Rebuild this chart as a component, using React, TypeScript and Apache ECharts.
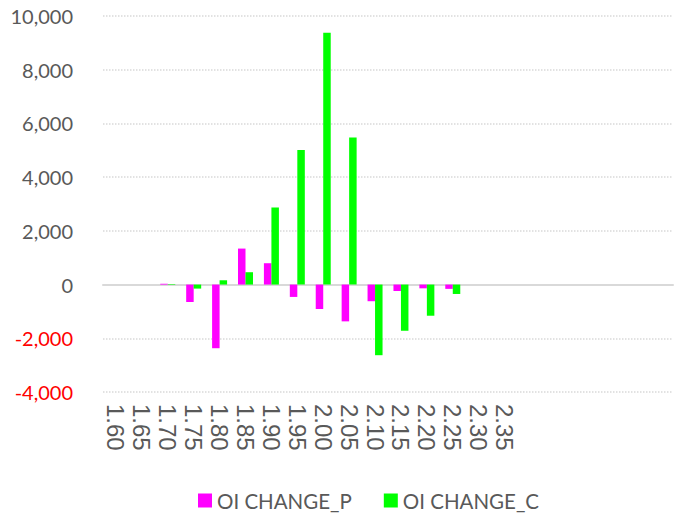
import React, { useEffect, useRef } from "react";
import * as echarts from "echarts";

const categories = ["1.60","1.65","1.70","1.75","1.80","1.85","1.90","1.95","2.00","2.05","2.10","2.15","2.20","2.25","2.30","2.35","","","","","",""];
const oiChangeP = [0, 0, 30, -650, -2370, 1340, 795, -460, -910, -1370, -620, -240, -140, -160, 0, 0, null, null, null, null, null, null];
const oiChangeC = [0, 0, 20, -150, 160, 460, 2870, 5010, 9380, 5480, -2630, -1720, -1160, -350, 0, 0, null, null, null, null, null, null];
const yTicks = { min: -4000, max: 10000, interval: 2000 };

export default function App() {
  const ref = useRef<HTMLDivElement>(null);
  useEffect(() => {
    const chart = echarts.init(ref.current!, null, { renderer: "svg" });
    chart.setOption({
      animation: false,
      grid: { left: 103, right: 10, top: 16, bottom: 123 },
      legend: {
        top: 485,
        left: 193,
        itemWidth: 14,
        itemHeight: 14,
        itemGap: 32,
        icon: "rect",
        textStyle: { fontFamily: "Lato", fontSize: 20.5, color: "#595959" },
        data: ["OI CHANGE_P", "OI CHANGE_C"],
      },
      xAxis: {
        type: "category",
        data: categories,
        axisLine: { onZero: true, lineStyle: { color: "#d9d9d9", width: 2 } },
        axisTick: { show: false },
        axisLabel: {
          interval: 0,
          rotate: -90,
          fontFamily: "Liberation Sans",
          fontSize: 24,
          color: "#595959",
          margin: 12,
        },
      },
      yAxis: {
        type: "value",
        min: yTicks.min,
        max: yTicks.max,
        interval: yTicks.interval,
        axisLine: { show: false },
        axisTick: { show: false },
        splitLine: { lineStyle: { color: "#d9d9d9", type: [1.5, 1.5], width: 1.5 } },
        axisLabel: {
          fontFamily: "Lato",
          fontSize: 20,
          margin: 30,
          color: (v: any) => (Number(v) < 0 ? "#ff0000" : "#595959"),
          formatter: (v: number) => v.toLocaleString("en-US"),
        },
      },
      series: [
        {
          name: "OI CHANGE_P",
          type: "bar",
          data: oiChangeP,
          barWidth: 7.5,
          barGap: "0%",
          itemStyle: { color: "#ff00ff" },
        },
        {
          name: "OI CHANGE_C",
          type: "bar",
          data: oiChangeC,
          barWidth: 7.5,
          barGap: "0%",
          itemStyle: { color: "#00ff00" },
        },
      ],
    });
    return () => chart.dispose();
  }, []);
  return (
    <div
      ref={ref}
      style={{ position: "absolute", left: 0, top: 0, width: 683, height: 515 }}
    />
  );
}
